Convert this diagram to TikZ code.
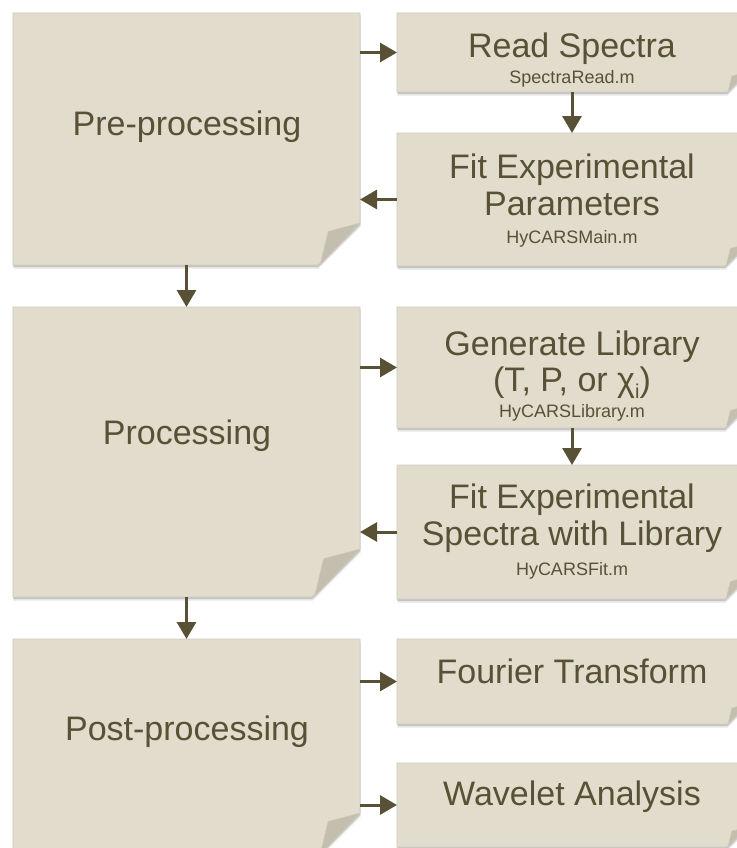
\documentclass[tikz,border=0pt]{standalone}
\usepackage{fontspec}
\setmainfont{Liberation Sans}
\usetikzlibrary{arrows.meta,calc}
\definecolor{paper}{RGB}{225,220,203}
\definecolor{flap}{RGB}{195,190,174}
\definecolor{ink}{RGB}{89,81,53}
\definecolor{edge}{RGB}{206,202,190}
\tikzset{
  x=1bp, y=-1bp,
  box/.style={rectangle, inner sep=0pt, outer sep=0pt},
  big/.style={text=ink, inner sep=0pt, anchor=base, font=\fontsize{34bp}{37bp}\selectfont},
  mid/.style={text=ink, inner sep=0pt, anchor=base, font=\fontsize{33bp}{37bp}\selectfont},
  small/.style={text=ink, inner sep=0pt, anchor=base, font=\fontsize{18bp}{20bp}\selectfont},
  arr/.style={draw=ink, line width=3bp, -{Triangle[length=17bp,width=19bp]}},
}
\newcommand\paperbox[2]{%
  \fill[black, opacity=0.10] ([shift={(0.5bp,-3.5bp)}]#1.north west) -- ([shift={(0.5bp,-3.5bp)}]#1.north east)
     -- ([shift={(0.5bp,-3.5bp)}]$(#1.south east)+(0,-#2)$) -- ([shift={(0.5bp,-3.5bp)}]$(#1.south east)+(-#2,0)$)
     -- ([shift={(0.5bp,-3.5bp)}]#1.south west) -- cycle;
  \fill[black, opacity=0.14] ([shift={(0.3bp,-1.8bp)}]#1.north west) -- ([shift={(0.3bp,-1.8bp)}]#1.north east)
     -- ([shift={(0.3bp,-1.8bp)}]$(#1.south east)+(0,-#2)$) -- ([shift={(0.3bp,-1.8bp)}]$(#1.south east)+(-#2,0)$)
     -- ([shift={(0.3bp,-1.8bp)}]#1.south west) -- cycle;
  \filldraw[fill=paper, draw=edge, line width=0.7bp] (#1.north west) -- (#1.north east)
     -- ($(#1.south east)+(0,-#2)$) -- ($(#1.south east)+(-#2,0)$) -- (#1.south west) -- cycle;
  \filldraw[fill=flap, draw=edge, line width=0.5bp, line join=round] ($(#1.south east)+(0,-#2)$)
     -- ($(#1.south east)+(-0.95*#2,-0.0*#2)$)
     -- ($(#1.south east)+(-0.76*#2,-0.80*#2)$) -- cycle;
}
\begin{document}
\begin{tikzpicture}
\useasboundingbox (0,0) rectangle (737,848);
\clip (0,0) rectangle (737,848);
\fill[white] (0,0) rectangle (737,848);
% left boxes
\node[box, minimum width=347bp, minimum height=252bp] (pre) at (186.5,139) {};
\node[box, minimum width=347bp, minimum height=290bp] (proc) at (186.5,452) {};
\node[box, minimum width=347bp, minimum height=216bp] (post) at (186.5,747) {};
% right boxes
\node[box, minimum width=350bp, minimum height=79bp] (read) at (572,52.5) {};
\node[box, minimum width=350bp, minimum height=133bp] (fitp) at (572,199.5) {};
\node[box, minimum width=350bp, minimum height=121bp] (gen) at (572,367.5) {};
\node[box, minimum width=350bp, minimum height=134bp] (fits) at (572,532) {};
\node[box, minimum width=350bp, minimum height=85bp] (four) at (572,681.5) {};
\node[box, minimum width=350bp, minimum height=84bp] (wave) at (572,805) {};
\paperbox{pre}{42}
\paperbox{proc}{48}
\paperbox{post}{42}
\paperbox{read}{20}
\paperbox{fitp}{22}
\paperbox{gen}{22}
\paperbox{fits}{22}
\paperbox{four}{20}
\paperbox{wave}{20}
% texts
\node[big] (tpre) at (187,135) {Pre-processing};
\node[big] (tproc) at (187,444) {Processing};
\node[big] (tpost) at (187,740) {Post-processing};
\node[big] (tread) at (572,57) {Read Spectra};
\node[small] (sread) at (572,83) {SpectraRead.m};
\node[big] (tfitp1) at (572,178) {Fit Experimental};
\node[big] (tfitp2) at (572,215) {Parameters};
\node[small] (sfitp) at (572,243) {HyCARSMain.m};
\node[big] (tgen1) at (572,355) {Generate Library};
\node[big] (tgen2) at (572,391) {(T, P, or χ\raisebox{-0.22em}{\fontsize{20bp}{20bp}\selectfont i})};
\node[small] (sgen) at (572,417) {HyCARSLibrary.m};
\node[big] (tfits1) at (572,508) {Fit Experimental};
\node[big] (tfits2) at (572,545) {Spectra with Library};
\node[small] (sfits) at (572,575) {HyCARSFit.m};
\node[big] (tfour) at (572,683) {Fourier Transform};
\node[big] (twave) at (572,805) {Wavelet Analysis};
% connectors
\draw[arr] (pre.east |- read.west) -- (read.west);
\draw[arr] (read.south) -- (fitp.north);
\draw[arr] (fitp.west) -- (pre.east |- fitp.west);
\draw[arr] (pre.south) -- (proc.north);
\draw[arr] (proc.east |- gen.west) -- (gen.west);
\draw[arr] (gen.south) -- (fits.north);
\draw[arr] (fits.west) -- (proc.east |- fits.west);
\draw[arr] (proc.south) -- (post.north);
\draw[arr] (post.east |- four.west) -- (four.west);
\draw[arr] (post.east |- wave.west) -- (wave.west);
\end{tikzpicture}
\end{document}
